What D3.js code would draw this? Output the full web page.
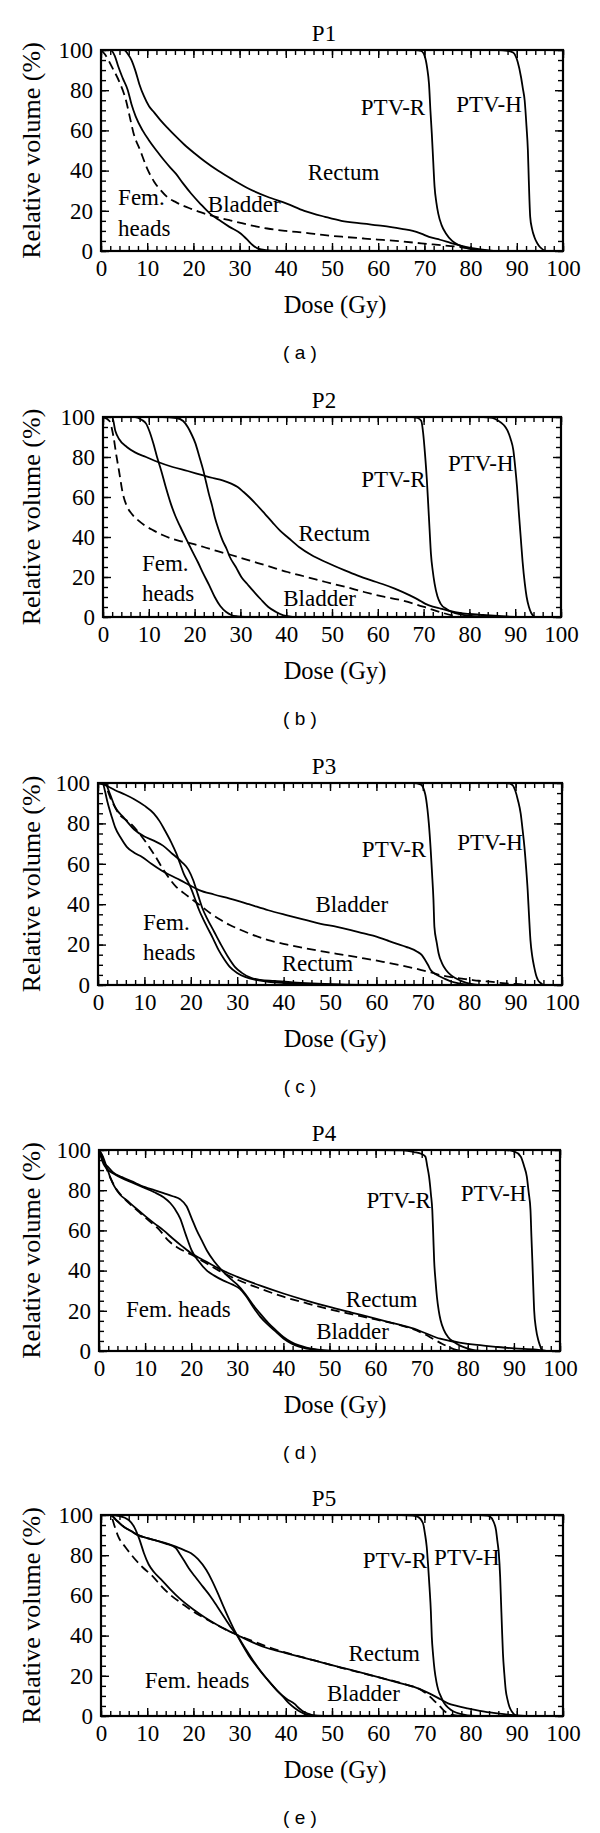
<!DOCTYPE html>
<html><head><meta charset="utf-8">
<script src="https://cdn.jsdelivr.net/npm/d3@7"></script>
<style>body{margin:0;background:#fff}svg{display:block}</style>
</head><body>
<svg id="chart" width="600" height="1833"></svg>
<script>
// ---------- data ----------
const xTickValues = [0,10,20,30,40,50,60,70,80,90,100];
const yTickValues = [0,20,40,60,80,100];
const panelTitles = ["P1","P2","P3","P4","P5"];
const panelLetters = ["a","b","c","d","e"];
const xAxisLabel = "Dose (Gy)";
const yAxisLabel = "Relative volume (%)";

// P1
const p1FemHeads = [[0,100],[0.8,98],[2.5,91],[4,84],[5.4,75],[6.3,66],[7,59],[8.5,50],[10,41],[11.5,34.5],[13,30],[14.5,26.5],[16.2,24.3],[18,22.3],[19.5,21],[21.5,19.3],[23.6,17.8],[27.8,15.3],[32,13],[36,11.2],[40,10],[44.4,9],[48,8],[52.7,7],[57,6.2],[61,5.5],[65,4.8],[69.3,3.8],[73,3],[77.6,2],[80,1.2],[82,0.5],[84,0]];
const p1Bladder = [[0,100],[2,100],[3,97],[3.7,92],[4.7,86],[5.8,80],[6.6,73],[7.5,67],[9,60],[10.4,55],[12,50],[13.7,45],[15,41.5],[16.2,38.5],[17.8,33.5],[19.5,28.6],[21.5,23.5],[23.6,18.6],[25.5,15.5],[27.8,12],[30.3,8.6],[31.5,6],[32.8,3],[34,1.2],[36,0.3],[38,0]];
const p1Rectum = [[0,100],[5,100],[5.8,98],[6.6,95],[7.4,90],[8.3,83],[9.3,77],[10.4,72],[11.5,69],[12.9,65],[14.5,61],[16.2,57],[18,53],[20.3,48.5],[22.5,44.5],[25.3,40],[28.5,35.5],[32,31],[36,27],[40.2,23.6],[44,20],[48.5,17],[52,15],[56.8,13.6],[61,12.5],[65.1,11],[67.5,10],[69.3,8.6],[71,7],[73.4,5.6],[75.5,4.2],[77.6,2.8],[80,1.5],[82.6,0.7],[85,0]];
const p1PtvR = [[0,100],[68,100],[69.3,99.5],[70.1,96.7],[70.6,91],[71,83],[71.3,70],[71.6,58.5],[71.9,45],[72.2,32],[72.6,24],[73,18.6],[73.7,13],[74.7,8.6],[76,5],[77.6,2.8],[79.5,1.2],[81.7,0.3],[84,0]];
const p1PtvH = [[0,100],[86,100],[88,99.6],[89.2,98.7],[90.2,94],[90.9,86.7],[91.3,81],[91.7,75],[92.1,62],[92.4,50],[92.6,35],[92.9,17],[93.3,11],[93.8,7],[94.4,4],[95,2],[96.3,0]];
// P2
const p2Bladder = [[0,100],[1.4,98],[2.3,90],[2.9,81],[3.5,73],[4.3,62],[5.2,55.5],[6.3,51.5],[7.7,48.3],[9.3,45.5],[11,43.3],[13,41],[15.2,39],[17.2,37.8],[19.4,36.7],[22,35],[24.4,33.3],[28,31],[31.9,28.3],[36,25.5],[40.3,22.5],[44.5,20],[48.6,17.5],[53,15],[57,12.5],[61,10.3],[65.3,8.3],[68.5,6.2],[71.2,4.2],[73.7,2.4],[76.2,0.8],[78,0]];
const p2Rectum = [[0,100],[2,100],[2.7,93],[3.5,89],[5.2,85],[7,82.3],[9.4,80],[12,77.5],[15.2,75],[18.5,73],[21.9,70.8],[24,69.5],[26.1,68.3],[28,66.7],[29.4,65],[30.7,62.5],[31.9,60],[33.6,56],[35.3,51.7],[37,47.3],[38.6,43.3],[40.5,39.5],[42.8,35],[45.5,31],[48.6,27.5],[52.8,23.3],[55.5,20.8],[58.6,18.3],[61,16.5],[63.7,14.2],[67,10.8],[68.8,8.7],[70.3,6.7],[72,5.2],[73.7,4.2],[75.7,3],[77.9,2],[80,1.5],[83,1],[86.2,0.5],[90,0]];
const p2FemL = [[0,100],[7,100],[7.7,99.5],[8.5,98.5],[9.4,96.7],[10.2,92.5],[11,86.7],[11.8,80],[12.7,73.3],[13.7,65],[14.8,56.7],[15.8,50.5],[16.9,45],[18.1,39.3],[19.4,33.3],[20.7,27.5],[21.9,21.7],[23.2,15.8],[24.4,10],[25.6,5.5],[26.9,2.5],[28,1],[29.4,0.3],[31,0]];
const p2FemR = [[0,100],[13,100],[16,99.5],[17.5,98],[18.5,95],[19.3,91.5],[20.2,86.7],[21,80.5],[21.9,73.3],[22.5,67.5],[23.1,61.7],[23.8,55.8],[24.4,50],[25.2,44],[26.1,38.3],[27,34],[27.7,30],[29,25],[30.2,20],[31.5,16.5],[32.7,13.3],[34.4,9],[36.1,5],[37.8,2.5],[39.4,0.8],[41,0.2],[42,0]];
const p2PtvR = [[0,100],[67.5,100],[68.7,99.5],[69.5,98],[69.9,92],[70.3,81.7],[70.7,69],[71,56.7],[71.3,44],[71.6,31.7],[72,23],[72.4,16.7],[73,10.5],[73.7,6.7],[75,4],[76.2,2.5],[78,1.3],[80.4,0.5],[83,0]];
const p2PtvH = [[0,100],[83,100],[85,99.6],[86.2,98.3],[87.5,96],[88.3,93.3],[89,89],[89.6,83.3],[90,75],[90.4,65],[90.8,52],[91.2,40],[91.6,28],[92.1,16.7],[92.5,10],[93,5],[93.5,2],[94.2,0]];
// P3
const p3Rectum = [[0,100],[1.2,99.7],[2.9,91.4],[4.5,84.8],[7,80],[9.5,73.3],[12,65],[14.4,56],[16.9,48.5],[18.5,45.5],[20.2,42.5],[22,39.5],[24.3,35.4],[26.3,32.4],[28.4,29.7],[30.5,27.5],[32.6,25.5],[36.7,22.2],[40.8,20],[44.9,18.1],[49,16.4],[53.2,14.8],[57.3,13.2],[61.4,11.5],[65.5,9.6],[69.7,7.4],[71.8,6.2],[73.8,4.9],[75.8,4],[77.9,3.3],[80,2.7],[82,2.1],[85,1.5],[87.8,0.8],[90,0.5],[92.7,0.2],[95,0]];
const p3Bladder = [[0,100],[1,100],[1.5,96],[2,91],[3,83],[3.7,78],[5,72.5],[6.2,68.4],[7.8,65.5],[9.5,63.4],[11.5,60],[13.6,56.8],[15.6,54.3],[17.7,51.9],[19.8,49.3],[21.8,47],[25,44.8],[28.4,42.8],[32.5,40],[36.7,37],[40.8,34.5],[44.9,32.1],[48,30.3],[51.5,28.8],[54.5,27.2],[57.3,25.5],[60,24],[62.2,22.2],[64.3,20.5],[66.4,18.9],[68.8,16.5],[69.8,14.8],[70.5,12.4],[71.1,10],[71.7,7.4],[72.7,5.5],[73.8,4.1],[75,2.8],[76.3,1.6],[78,0.7],[79.6,0.2],[81,0]];
const p3FemA = [[0,100],[1.5,99],[3.7,96.4],[5.8,94.3],[7.8,92],[10,88.8],[12,85],[13.3,81],[14.4,76.6],[15.7,71],[16.9,65],[17.7,60],[18.5,55],[19.4,51],[20.2,47],[21,42],[21.8,37],[22.7,32.5],[23.5,28.8],[24.8,23],[26,17.3],[27.2,12.8],[28.4,9],[30,6],[31.7,4],[34,2.5],[36.7,1.6],[40,1],[45,0.5],[50,0.2],[55,0]];
const p3FemB = [[0,100],[1.5,100],[2.5,95],[3.7,88],[5.5,83],[7.8,77],[10,73.5],[12,71.5],[14,69],[16,65],[18,61],[19.5,57],[20.5,52],[21.5,45],[22.5,38],[23.5,33],[25,26.5],[26.5,20],[28,14],[29.5,9],[31,6],[33,3.5],[35,2.5],[38,2],[42,1.3],[46,0.8],[52,0.3],[60,0]];
const p3PtvR = [[0,100],[68,100],[69.5,99.3],[70.5,94.7],[71,87],[71.3,80],[71.7,67],[72,55],[72.3,42],[72.5,28.8],[73,21],[73.4,15.7],[74.2,10.5],[75,7.4],[76,5],[77.1,3.3],[78.5,1.8],[80.4,0.5],[82,0]];
const p3PtvH = [[0,100],[88,100],[89.3,99],[89.9,96.4],[90.5,91.5],[91.1,84.8],[91.5,77],[91.9,68.4],[92.3,57],[92.6,47],[92.9,34],[93.2,22.2],[93.6,14],[94,9],[94.4,5],[94.8,2.5],[95.4,1],[96,0]];
// P4
const p4Rectum = [[0,100],[0.8,97],[1.6,92],[2.5,86],[3.3,82],[4.5,78],[6,75],[8,71],[10.1,67],[12,63.5],[14,60],[16,56],[18,52.2],[20.1,48.5],[22,46],[24,43.5],[26,41],[28,38.8],[30,36.9],[35,32.5],[40,28.6],[45,25.1],[50,21.9],[55,19],[60,16.1],[64,13.8],[68.3,11.1],[71,8.7],[74,6.1],[76,5.1],[78.2,4.2],[82,3],[86.5,2],[90,1.3],[94.9,0.7],[97,0]];
const p4Bladder = [[0,100],[0.8,96.5],[1.6,91],[2.5,86],[3.5,81.5],[5,77],[7,72.5],[9,68.5],[11,64.5],[13,60.5],[15,55],[17,51.5],[20,48],[23,44],[26,40],[30,35.5],[35,31],[40,27],[45,23.8],[50,20.8],[55,18.2],[60,15.7],[65,13],[68,11],[70.5,8.5],[72.5,6],[74.5,3.5],[76,1.8],[77.5,0.5],[79,0]];
const p4FemA = [[0,100],[0.5,97],[1,94],[2,91.5],[3,89],[5,86.5],[7,84.5],[10,81.5],[12,80],[14,78.5],[16,77],[17.6,75.5],[19,72],[20.1,66],[21.2,60],[22.3,55],[23.4,50],[25,44.5],[26.7,40],[28.5,36],[30,33],[31.7,28.5],[33.4,23],[35,18.5],[36.7,14],[38.4,10.3],[40,7],[41.7,4.5],[43.4,2.8],[45,1.7],[47.5,0.7],[50,0.2],[55,0]];
const p4FemB = [[0,100],[0.5,96],[1,93],[2,90],[3,88.5],[5,86],[7,84],[10,81],[12,79],[14,76.5],[15.5,73.5],[16.5,70.5],[17.6,66],[18.8,58],[20.1,50],[21.5,45],[23.4,40],[25,37.5],[27,35],[29,33],[30.5,31],[32,27],[33.4,22],[35,17],[36.7,13],[38.4,9.5],[40,6.2],[41.7,3.8],[43.4,2.2],[45,1.2],[47.5,0.5],[50,0]];
const p4PtvR = [[0,100],[60,100],[66,99.8],[68.3,99],[70,98],[70.8,96.7],[71.2,92],[71.6,86.7],[72,78],[72.3,70],[72.5,58],[72.7,45],[73,35],[73.3,27],[73.7,20],[74.1,15.3],[74.8,10.5],[75.7,7],[77,4.5],[78.2,2.8],[80,1.2],[81.6,0.3],[83,0]];
const p4PtvH = [[0,100],[88,100],[90,99.3],[91.5,96.7],[92.2,92],[92.8,86.7],[93.2,79],[93.6,70],[93.8,57],[94,45],[94.2,32],[94.4,20],[94.8,11],[95.3,5.3],[95.7,2.5],[96.1,0.3],[97,0]];
// P5
const p5Rectum = [[0,100],[2,100],[4,99.5],[6,97.5],[7.2,94],[8.3,88],[9.3,81],[10.3,75.5],[11.5,71.5],[13,68],[15,63],[17,58.5],[20,53],[22.5,49],[25,45.5],[27.5,42.5],[29.5,40.3],[32,37.5],[36.1,33.7],[40,31.3],[44.4,28.7],[48.5,26.2],[52.7,23.7],[57,21.2],[61,18.7],[64.5,16.5],[67.6,14.6],[70,12.4],[71.8,10.4],[73.5,8.3],[75.1,6.3],[77,5],[79.3,3.8],[82,2.6],[85.9,1.3],[88,0.7],[90.9,0.2],[93,0]];
const p5Bladder = [[0,100],[2,100],[3,94],[3.7,89.5],[5.3,84],[7,79],[9,74],[11.2,69.5],[13.3,64],[15.4,59.5],[17.5,56],[19.5,52.7],[22,49.2],[24.5,46],[27,43],[29.5,40.3],[32,38],[36,34.5],[40,31.5],[44,29],[48,26.5],[52,24],[56,21.7],[60,19.3],[64,17],[67,15],[69.3,13],[71,10],[72.6,6.5],[73.5,4.5],[74.3,2.5],[75.2,1.2],[76,0.5],[78,0]];
const p5FemA = [[0,100],[2,100],[3.5,97],[5,94],[6.5,92],[8,90],[10,88.5],[12,87.3],[14,85.8],[16.2,83.5],[17.1,80.5],[17.8,78],[19,73.5],[20.3,69.5],[22,64.5],[23.7,59.5],[25.3,54],[27,48],[28.3,43.5],[29.5,40],[31,34.5],[32.8,28],[34.5,22.5],[36.1,18],[37.8,13.5],[39.4,9.6],[40.6,6.5],[41.9,4],[43.2,2],[44.4,0.7],[46,0.2],[48,0]];
const p5FemB = [[0,100],[2,100],[3.5,97],[5,94],[6.5,92],[8,90],[10,88.5],[12,87.3],[14,86],[16.2,84.3],[18,82.5],[19.5,81],[21,78],[22.8,72.6],[24,67.5],[25.3,61],[26.5,54.5],[27.8,47.8],[28.7,43.5],[29.5,40],[30.7,35],[32,30],[33.6,25],[35.3,20],[37,15.5],[38.6,11.5],[40.2,8.5],[41.9,6],[42.8,4],[43.6,2.5],[44.8,1.2],[46,0.3],[48,0]];
const p5PtvR = [[0,100],[65,100],[67.5,99.7],[68.5,99.2],[69.7,95.9],[70.1,91],[70.5,84.2],[70.8,75],[71.1,64.3],[71.4,52],[71.6,39.5],[71.9,30],[72.2,22.9],[72.6,17],[73,13],[73.6,9.5],[74.3,6.3],[75.2,4],[76.3,2.2],[77.8,1],[79.3,0.3],[81,0]];
const p5PtvH = [[0,100],[82,100],[83.4,99.7],[84.2,99.2],[85,96.5],[85.5,92.5],[85.8,87],[86.1,81],[86.4,69],[86.6,56],[86.8,43],[87,31.2],[87.3,21],[87.6,13],[88,8],[88.4,4.6],[89,2],[89.6,0.5],[90.3,0]];

// in-plot annotation texts (data-space anchors)
const p1Notes = [["PTV-R",63.2,71.8,"middle"],["PTV-H",84,73,"middle"],["Rectum",52.5,39.4,"middle"],["Bladder",31,23.3,"middle"],["Fem.",3.7,27,"start"],["heads",3.7,11.5,"start"]];
const p2Notes = [["PTV-R",63.4,69,"middle"],["PTV-H",82.5,77,"middle"],["Rectum",50.5,42,"middle"],["Fem.",8.5,27,"start"],["heads",8.5,12,"start"],["Bladder",47.3,9.7,"middle"]];
const p3Notes = [["PTV-R",63.8,67.5,"middle"],["PTV-H",84.5,70.8,"middle"],["Bladder",54.7,39.9,"middle"],["Fem.",9.7,31.3,"start"],["heads",9.7,16.5,"start"],["Rectum",47.3,11,"middle"]];
const p4Notes = [["PTV-R",65,75,"middle"],["PTV-H",85.6,78.7,"middle"],["Rectum",61.3,26,"middle"],["Bladder",55,10,"middle"],["Fem. heads",17.2,21,"middle"]];
const p5Notes = [["PTV-R",63.6,77.6,"middle"],["PTV-H",79.2,79,"middle"],["Rectum",61.3,31.5,"middle"],["Bladder",56.8,11.6,"middle"],["Fem. heads",20.8,18,"middle"]];

// ---------- layout ----------
const boxes = [
  {left:101,right:563,top:50,bottom:251},
  {left:103,right:561,top:417,bottom:617},
  {left:98,right:562,top:783,bottom:985},
  {left:99,right:560,top:1150,bottom:1351},
  {left:101,right:563,top:1515,bottom:1716}
];
const panels = [
  {series:[[p1FemHeads,true],[p1Bladder,false],[p1Rectum,false],[p1PtvR,false],[p1PtvH,false]], notes:p1Notes},
  {series:[[p2Bladder,true],[p2Rectum,false],[p2FemL,false],[p2FemR,false],[p2PtvR,false],[p2PtvH,false]], notes:p2Notes},
  {series:[[p3Rectum,true],[p3Bladder,false],[p3FemA,false],[p3FemB,false],[p3PtvR,false],[p3PtvH,false]], notes:p3Notes},
  {series:[[p4Bladder,true],[p4Rectum,false],[p4FemA,false],[p4FemB,false],[p4PtvR,false],[p4PtvH,false]], notes:p4Notes},
  {series:[[p5Bladder,true],[p5Rectum,false],[p5FemA,false],[p5FemB,false],[p5PtvR,false],[p5PtvH,false]], notes:p5Notes}
];

const SERIF = "'Liberation Serif','Times New Roman',serif";
const svg = d3.select("#chart");
const minorX = d3.range(0,101,2), minorY = d3.range(0,101,5);

panels.forEach((p,i)=>{
  const b = boxes[i];
  const x = d3.scaleLinear().domain([0,100]).range([b.left,b.right]);
  const y = d3.scaleLinear().domain([0,100]).range([b.bottom,b.top]);
  const g = svg.append("g");
  const cx = (b.left+b.right)/2;

  const cid = "clip"+i;
  svg.append("clipPath").attr("id",cid).append("rect")
    .attr("x",b.left).attr("y",b.top).attr("width",b.right-b.left).attr("height",b.bottom-b.top);

  const mk = (axis, tr, vals, size, labels, pad) => {
    const a = g.append("g").attr("transform",tr)
      .call(axis.tickValues(vals).tickSize(size).tickPadding(pad||0).tickFormat(labels? d3.format("d") : ""));
    a.select(".domain").remove();
    a.selectAll("line").attr("stroke","#000").attr("stroke-width",1.4);
    a.selectAll("text").attr("font-family",SERIF).attr("font-size",23).attr("fill","#000");
    return a;
  };
  mk(d3.axisBottom(x), `translate(0,${b.bottom})`, minorX, -5, false);
  mk(d3.axisBottom(x), `translate(0,${b.bottom})`, xTickValues, -8, true, 9);
  mk(d3.axisTop(x), `translate(0,${b.top})`, minorX, -5, false);
  mk(d3.axisTop(x), `translate(0,${b.top})`, xTickValues, -8, false);
  mk(d3.axisLeft(y), `translate(${b.left},0)`, minorY, -5, false);
  mk(d3.axisLeft(y), `translate(${b.left},0)`, yTickValues, -8, true, 8);
  mk(d3.axisRight(y), `translate(${b.right},0)`, minorY, -5, false);
  mk(d3.axisRight(y), `translate(${b.right},0)`, yTickValues, -8, false);

  const line = d3.line().x(d=>x(d[0])).y(d=>y(d[1])).curve(d3.curveMonotoneX);
  const cg = g.append("g").attr("clip-path",`url(#${cid})`);
  p.series.forEach(([data,dashed])=>{
    cg.append("path").attr("d",line(data)).attr("fill","none")
      .attr("stroke","#000").attr("stroke-width",1.8)
      .attr("stroke-dasharray",dashed?"9,5":null);
  });

  g.append("rect").attr("x",b.left).attr("y",b.top)
    .attr("width",b.right-b.left).attr("height",b.bottom-b.top)
    .attr("fill","none").attr("stroke","#000").attr("stroke-width",2.2);

  p.notes.forEach(([t,nx,ny,anchor])=>{
    g.append("text").attr("x",x(nx)).attr("y",y(ny)).attr("dy","0.35em")
      .attr("text-anchor",anchor).attr("font-family",SERIF).attr("font-size",23)
      .attr("fill","#000").text(t);
  });

  g.append("text").attr("x",324).attr("y",b.top-17).attr("dy","0.35em")
    .attr("text-anchor","middle").attr("font-family",SERIF).attr("font-size",23).text(panelTitles[i]);
  g.append("text").attr("x",335).attr("y",b.bottom+55).attr("dy","0.3em")
    .attr("text-anchor","middle").attr("font-family",SERIF).attr("font-size",24.5).text(xAxisLabel);
  g.append("text").attr("transform",`translate(32,${(b.top+b.bottom)/2}) rotate(-90)`).attr("dy","0.3em")
    .attr("text-anchor","middle").attr("font-family",SERIF).attr("font-size",26).text(yAxisLabel);
  g.append("text").attr("x",300).attr("y",b.bottom+101).attr("dy","0.35em")
    .attr("text-anchor","middle").attr("font-family","'Liberation Sans',Arial,sans-serif").attr("font-size",19)
    .style("white-space","pre").text("( "+panelLetters[i]+" )");
});
</script>
</body></html>
